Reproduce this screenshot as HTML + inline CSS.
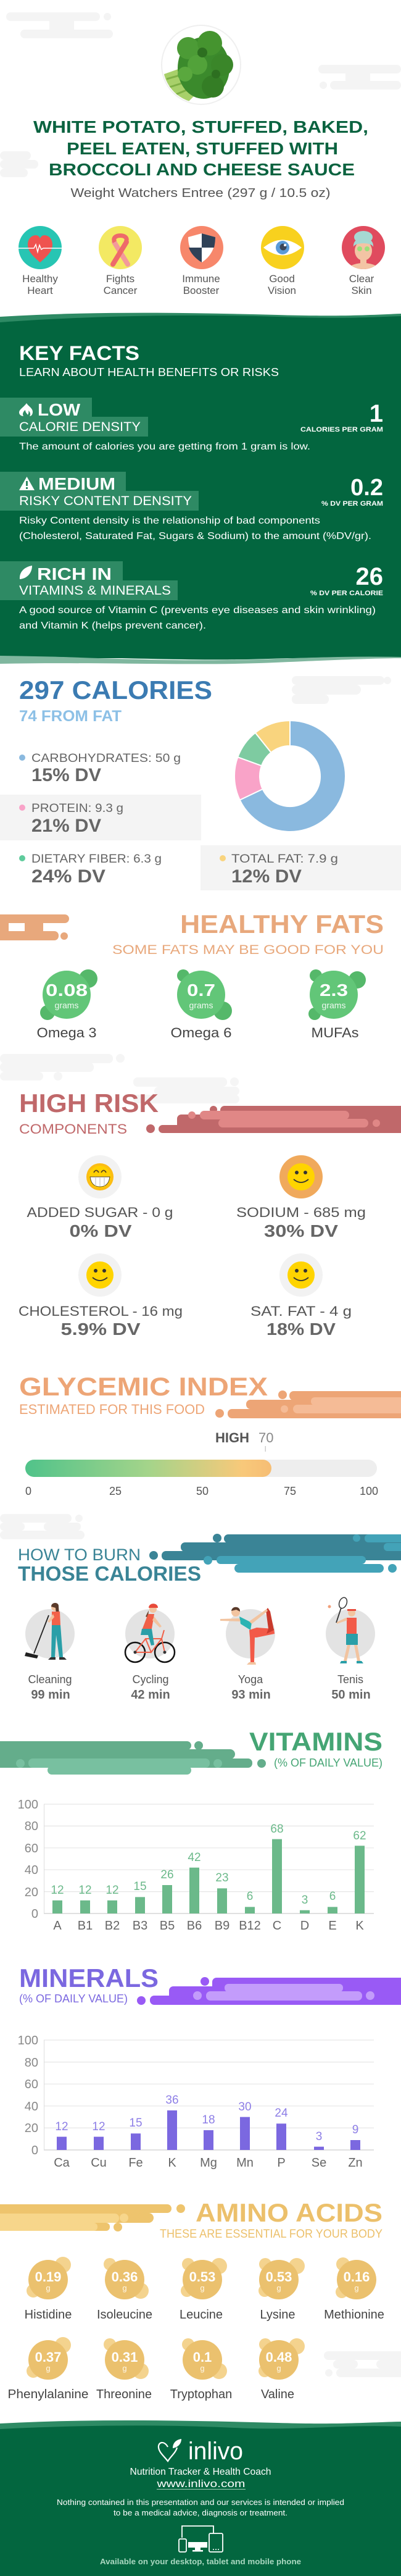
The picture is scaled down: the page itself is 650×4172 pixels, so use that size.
<!DOCTYPE html>
<html><head><meta charset="utf-8"><style>
html,body{margin:0;padding:0;background:#fff;}
svg{display:block;}
text{font-family:"Liberation Sans",Arial,sans-serif;}
</style></head><body>
<svg width="650" height="4172" viewBox="0 0 650 4172" xmlns="http://www.w3.org/2000/svg">
<defs>
<clipPath id="brc"><circle cx="326" cy="105" r="62"/></clipPath>
<clipPath id="skc"><circle cx="589" cy="401" r="35"/></clipPath>
<linearGradient id="gi" x1="0" x2="1" y1="0" y2="0">
<stop offset="0" stop-color="#50c38a"/><stop offset="0.5" stop-color="#a4d48a"/><stop offset="0.88" stop-color="#f8c97a"/><stop offset="1" stop-color="#f6bd74"/></linearGradient>
</defs>
<rect width="650" height="4172" fill="#fff"/>

<!-- header decorations -->
<g fill="#f4f4f4">
<rect x="10" y="20" width="152" height="14" rx="7"/><circle cx="174" cy="27" r="6"/><rect x="80" y="33" width="40" height="16"/><rect x="33" y="48" width="150" height="14" rx="7"/>
<rect x="516" y="105" width="134" height="14" rx="7"/><rect x="560" y="118" width="40" height="14"/><rect x="535" y="131" width="115" height="14" rx="7"/><circle cx="524" cy="138" r="6"/>
<rect x="0" y="245" width="50" height="14" rx="7"/><rect x="0" y="259" width="62" height="14" rx="7"/><rect x="0" y="273" width="45" height="14" rx="7"/>
</g>
<!-- broccoli -->
<circle cx="326" cy="105" r="64" fill="#fff" stroke="#efefef" stroke-width="2"/>
<g clip-path="url(#brc)">
<path d="M266,120 L300,108 L320,150 L300,170 L266,170 Z" fill="#a8d06a"/>
<path d="M270,128 L305,118 M272,142 L310,130 M280,155 L312,142" stroke="#7fb046" stroke-width="3"/>
<ellipse cx="330" cy="110" rx="42" ry="50" fill="#3b8a2c"/>
<circle cx="305" cy="78" r="18" fill="#4c9b36"/><circle cx="340" cy="70" r="20" fill="#45942f"/><circle cx="360" cy="105" r="18" fill="#3a8629"/>
<circle cx="320" cy="105" r="16" fill="#52a23a"/><circle cx="345" cy="140" r="18" fill="#347d25"/><circle cx="300" cy="120" r="12" fill="#5aa83e"/>
<circle cx="328" cy="85" r="8" fill="#2d6f20"/><circle cx="350" cy="120" r="7" fill="#2d6f20"/>
</g>
<!-- title -->
<g fill="#0b6340" font-weight="bold" font-size="28" text-anchor="middle">
<text x="325.5" y="215" textLength="543" lengthAdjust="spacingAndGlyphs">WHITE POTATO, STUFFED, BAKED,</text>
<text x="328" y="250" textLength="440" lengthAdjust="spacingAndGlyphs">PEEL EATEN, STUFFED WITH</text>
<text x="327" y="284" textLength="496" lengthAdjust="spacingAndGlyphs">BROCCOLI AND CHEESE SAUCE</text>
</g>
<text x="325" y="319" text-anchor="middle" font-size="20" fill="#555" textLength="421" lengthAdjust="spacingAndGlyphs">Weight Watchers Entree (297 g / 10.5 oz)</text>

<!-- benefit icons -->
<circle cx="65" cy="401" r="35" fill="#27c5b3"/>
<path d="M65,425 C55,416 45,408 45,396 C45,387 51,381 58,381 C62,381 64,384 65,386 C66,384 68,381 72,381 C79,381 85,387 85,396 C85,408 75,416 65,425 Z" fill="#ef5350"/>
<polyline points="30,402 55,402 58,396 61,408 64,397 67,404 70,402 100,402" fill="none" stroke="#fff" stroke-width="1.5"/>
<circle cx="195" cy="401" r="35" fill="#f3e963"/>
<path d="M207,428 L185,392" stroke="#f39a9a" stroke-width="8" stroke-linecap="round"/>
<path d="M183,428 L205,392" stroke="#ee6a6a" stroke-width="8" stroke-linecap="round"/>
<path d="M186,392 C178,378 212,378 204,392" fill="none" stroke="#ee6a6a" stroke-width="7"/>
<circle cx="327" cy="401" r="35" fill="#f7876b"/>
<path d="M305,384 L327,378 L349,384 C349,402 341,416 327,425 C313,416 305,402 305,384 Z" fill="#fff"/>
<path d="M327,378 L349,384 C349,391 348,396 347,401 L327,401 Z" fill="#2f4157"/>
<path d="M305,401 L327,401 L327,425 C316,418 309,410 306,401 Z" fill="#2f4157"/>
<circle cx="458" cy="401" r="35" fill="#f8d11e"/>
<path d="M427,401 Q458,376 489,401 Q458,426 427,401 Z" fill="#fff"/>
<circle cx="458" cy="401" r="11" fill="#5b9bd8"/><circle cx="459" cy="400" r="5.5" fill="#3b4658"/><circle cx="462" cy="397" r="2" fill="#fff"/>
<circle cx="589" cy="401" r="35" fill="#e04b5e"/>
<g clip-path="url(#skc)">
<ellipse cx="589" cy="442" rx="30" ry="16" fill="#f3c4a4"/>
<rect x="584" y="415" width="10" height="14" fill="#f3c4a4"/>
<ellipse cx="589" cy="406" rx="14" ry="16" fill="#f3c4a4"/>
<path d="M573,400 C571,380 607,380 605,400 C603,392 575,392 573,400 Z" fill="#a6d9d2"/>
<ellipse cx="589" cy="384" rx="15" ry="10" fill="#a6d9d2"/>
<circle cx="583" cy="403" r="4" fill="#9ce07a"/><circle cx="595" cy="403" r="4" fill="#9ce07a"/>
</g>
<g font-size="17" fill="#555" text-anchor="middle">
<text x="65" y="457">Healthy</text><text x="65" y="476">Heart</text>
<text x="195" y="457">Fights</text><text x="195" y="476">Cancer</text>
<text x="326" y="457">Immune</text><text x="326" y="476">Booster</text>
<text x="457" y="457">Good</text><text x="457" y="476">Vision</text>
<text x="586" y="457">Clear</text><text x="586" y="476">Skin</text>
</g>

<!-- KEY FACTS green section -->
<path d="M0,513 C150,504 300,506 450,510 C550,513 600,510 650,508 L650,530 L0,530 Z" fill="#2e8a64"/>
<path d="M0,522 C140,512 300,508 450,513 C560,517 610,513 650,512 L650,1066 L0,1066 Z" fill="#03663f"/>
<path d="M0,1060 C150,1066 300,1072 420,1068 C520,1064 600,1062 650,1063 L650,1066 C600,1066 520,1070 420,1074 C300,1078 150,1072 0,1075 Z" fill="#80b79f"/>
<path d="M0,1058 L650,1058 L650,1064 C560,1062 480,1066 400,1068 C300,1070 150,1064 0,1062 Z" fill="#03663f"/>

<g fill="#fff">
<text x="31" y="583" font-size="32" font-weight="bold" textLength="195" lengthAdjust="spacingAndGlyphs">KEY FACTS</text>
<text x="31" y="609" font-size="18" textLength="421" lengthAdjust="spacingAndGlyphs">LEARN ABOUT HEALTH BENEFITS OR RISKS</text>
</g>
<g fill="#2e8a64">
<rect x="0" y="644" width="149" height="32"/><rect x="0" y="675" width="240" height="32"/>
<rect x="0" y="764" width="204" height="32"/><rect x="0" y="795" width="322" height="32"/>
<rect x="0" y="909" width="199" height="32"/><rect x="0" y="940" width="288" height="32"/>
</g>
<g fill="#fff">
<path d="M43,653 C38,660 31,663 31,668 C31,672 35,674 38,674 C36,671 37,667 41,664 C41,668 44,670 45,672 C46,670 47,668 46,665 C49,667 50,671 48,674 C51,674 53,671 53,667 C53,661 46,658 43,653 Z"/>
<text x="61" y="673" font-size="28" font-weight="bold" textLength="69" lengthAdjust="spacingAndGlyphs">LOW</text>
<text x="31" y="698" font-size="21" textLength="197" lengthAdjust="spacingAndGlyphs">CALORIE DENSITY</text>
<text x="621" y="683" font-size="40" font-weight="bold" text-anchor="end">1</text>
<text x="621" y="699" font-size="11" font-weight="bold" text-anchor="end" textLength="134" lengthAdjust="spacingAndGlyphs">CALORIES PER GRAM</text>
<text x="31" y="728" font-size="16" textLength="472" lengthAdjust="spacingAndGlyphs">The amount of calories you are getting from 1 gram is low.</text>

<path d="M43.5,772 L56,794 L31,794 Z"/>
<rect x="42" y="779" width="3" height="8" fill="#2e8a64"/><rect x="42" y="789" width="3" height="3" fill="#2e8a64"/>
<text x="62" y="793" font-size="28" font-weight="bold" textLength="125" lengthAdjust="spacingAndGlyphs">MEDIUM</text>
<text x="31" y="818" font-size="21" textLength="280" lengthAdjust="spacingAndGlyphs">RISKY CONTENT DENSITY</text>
<text x="621" y="802" font-size="38" font-weight="bold" text-anchor="end">0.2</text>
<text x="621" y="819" font-size="11" font-weight="bold" text-anchor="end" textLength="100" lengthAdjust="spacingAndGlyphs">% DV PER GRAM</text>
<text x="31" y="848" font-size="16" textLength="488" lengthAdjust="spacingAndGlyphs">Risky Content density is the relationship of bad components</text>
<text x="31" y="873" font-size="16" textLength="571" lengthAdjust="spacingAndGlyphs">(Cholesterol, Saturated Fat, Sugars &amp; Sodium) to the amount (%DV/gr).</text>

<path d="M52,916 C40,918 31,926 32,938 C44,937 52,928 52,916 Z"/>
<text x="60" y="939" font-size="28" font-weight="bold" textLength="121" lengthAdjust="spacingAndGlyphs">RICH  IN</text>
<text x="31" y="963" font-size="21" textLength="246" lengthAdjust="spacingAndGlyphs">VITAMINS &amp; MINERALS</text>
<text x="621" y="947" font-size="40" font-weight="bold" text-anchor="end">26</text>
<text x="621" y="964" font-size="11" font-weight="bold" text-anchor="end" textLength="118" lengthAdjust="spacingAndGlyphs">% DV PER CALORIE</text>
<text x="31" y="993" font-size="16" textLength="578" lengthAdjust="spacingAndGlyphs">A good source of Vitamin C (prevents eye diseases and skin wrinkling)</text>
<text x="31" y="1018" font-size="16" textLength="303" lengthAdjust="spacingAndGlyphs">and Vitamin K (helps prevent cancer).</text>
</g>

<!-- CALORIES -->
<g fill="#f4f4f4">
<rect x="473" y="1095" width="150" height="14" rx="7"/><circle cx="628" cy="1102" r="6"/><rect x="473" y="1109" width="112" height="16" rx="8"/><rect x="473" y="1125" width="60" height="15" rx="7"/>
</g>
<text x="31" y="1132" font-size="42" font-weight="bold" fill="#3b7bb2" textLength="313" lengthAdjust="spacingAndGlyphs">297 CALORIES</text>
<text x="31" y="1168" font-size="25" font-weight="bold" fill="#8cc0e6" textLength="166" lengthAdjust="spacingAndGlyphs">74 FROM FAT</text>
<g stroke="#fff" stroke-width="2">
<path d="M470,1167 A90,90 0 1 1 388.7,1295.6 L425.7,1278 A49,49 0 1 0 470,1208 Z" fill="#8ab9df"/>
<path d="M388.7,1295.6 A90,90 0 0 1 385.4,1226.2 L424,1240.2 A49,49 0 0 0 425.7,1278 Z" fill="#f9a3c8"/>
<path d="M385.4,1226.2 A90,90 0 0 1 413.8,1186.7 L439.4,1218.7 A49,49 0 0 0 424,1240.2 Z" fill="#7ecba1"/>
<path d="M413.8,1186.7 A90,90 0 0 1 470,1167 L470,1208 A49,49 0 0 0 439.4,1218.7 Z" fill="#f9d47e"/>
</g>
<rect x="0" y="1287" width="326" height="74" fill="#f4f4f4"/>
<rect x="325" y="1369" width="325" height="73" fill="#f4f4f4"/>
<circle cx="36" cy="1227" r="5" fill="#8ab9df"/>
<circle cx="36" cy="1308" r="5" fill="#f9a3c8"/>
<circle cx="36" cy="1390" r="5" fill="#5fcb9c"/>
<circle cx="361" cy="1390" r="5" fill="#f9d47e"/>
<g fill="#666" font-size="19">
<text x="51" y="1234" textLength="242" lengthAdjust="spacingAndGlyphs">CARBOHYDRATES: 50 g</text>
<text x="51" y="1315" textLength="149" lengthAdjust="spacingAndGlyphs">PROTEIN: 9.3 g</text>
<text x="51" y="1397" textLength="211" lengthAdjust="spacingAndGlyphs">DIETARY FIBER: 6.3 g</text>
<text x="375" y="1397" textLength="173" lengthAdjust="spacingAndGlyphs">TOTAL FAT: 7.9 g</text>
</g>
<g fill="#666" font-size="30" font-weight="bold">
<text x="51" y="1265" textLength="113" lengthAdjust="spacingAndGlyphs">15% DV</text>
<text x="51" y="1347" textLength="113" lengthAdjust="spacingAndGlyphs">21% DV</text>
<text x="51" y="1429" textLength="120" lengthAdjust="spacingAndGlyphs">24% DV</text>
<text x="375" y="1429" textLength="114" lengthAdjust="spacingAndGlyphs">12% DV</text>
</g>

<!-- HEALTHY FATS -->
<g fill="#e8a87c">
<rect x="-10" y="1481" width="122" height="14" rx="7"/><rect x="0" y="1494" width="14" height="15"/><rect x="40" y="1494" width="30" height="15"/>
<rect x="-10" y="1508" width="105" height="15" rx="7"/><circle cx="104" cy="1516" r="6"/>
</g>
<rect x="14" y="1495" width="26" height="13" rx="6" fill="#fff"/>
<text x="622" y="1511" font-size="42" font-weight="bold" fill="#e8a87c" text-anchor="end" textLength="330" lengthAdjust="spacingAndGlyphs">HEALTHY FATS</text>
<text x="622" y="1545" font-size="21" fill="#e8a87c" text-anchor="end" textLength="440" lengthAdjust="spacingAndGlyphs">SOME FATS MAY BE GOOD FOR YOU</text>
<g fill="#55b86a">
<circle cx="143" cy="1585" r="15"/><circle cx="77" cy="1640" r="12"/>
<circle cx="297" cy="1580" r="10"/><circle cx="361" cy="1637" r="15"/>
<circle cx="512" cy="1580" r="10"/><circle cx="579" cy="1587" r="14"/><circle cx="510" cy="1642" r="10"/>
</g>
<g fill="#62c678"><circle cx="108" cy="1611" r="39"/><circle cx="326" cy="1611" r="39"/><circle cx="541" cy="1611" r="39"/></g>
<g fill="#fff" font-weight="bold" font-size="28" text-anchor="middle">
<text x="108" y="1613" textLength="68" lengthAdjust="spacingAndGlyphs">0.08</text>
<text x="326" y="1613" textLength="46" lengthAdjust="spacingAndGlyphs">0.7</text>
<text x="541" y="1613" textLength="46" lengthAdjust="spacingAndGlyphs">2.3</text>
</g>
<g fill="#eef9f0" font-size="14" text-anchor="middle">
<text x="108" y="1633">grams</text><text x="326" y="1633">grams</text><text x="541" y="1633">grams</text>
</g>
<g fill="#444" font-size="22" text-anchor="middle">
<text x="108" y="1680" textLength="97" lengthAdjust="spacingAndGlyphs">Omega 3</text>
<text x="326" y="1680" textLength="99" lengthAdjust="spacingAndGlyphs">Omega 6</text>
<text x="543" y="1680" textLength="77" lengthAdjust="spacingAndGlyphs">MUFAs</text>
</g>

<!-- HIGH RISK -->
<g fill="#f5f5f5">
<rect x="0" y="1707" width="183" height="15" rx="7"/><circle cx="195" cy="1714" r="7"/><rect x="0" y="1721" width="152" height="15" rx="7"/><rect x="0" y="1736" width="70" height="14" rx="7"/><circle cx="94" cy="1743" r="7"/>
<rect x="216" y="1745" width="152" height="15" rx="7"/><circle cx="380" cy="1752" r="7"/><rect x="250" y="1760" width="138" height="14" rx="7"/><rect x="216" y="1773" width="172" height="14" rx="7"/>
</g>
<text x="31" y="1801" font-size="42" font-weight="bold" fill="#c0686a" textLength="226" lengthAdjust="spacingAndGlyphs">HIGH RISK</text>
<text x="31" y="1836" font-size="22" fill="#c0686a" textLength="175" lengthAdjust="spacingAndGlyphs">COMPONENTS</text>
<g fill="#c0686a">
<rect x="357" y="1791" width="300" height="44" rx="7"/><circle cx="346" cy="1797" r="6"/>
<rect x="287" y="1805" width="370" height="30" rx="7"/>
<rect x="257" y="1822" width="400" height="13" rx="6.5"/><circle cx="244" cy="1828" r="7"/>
</g>
<g fill="#e08786">
<rect x="324" y="1799" width="242" height="14" rx="7"/><circle cx="311" cy="1806" r="6"/>
<rect x="354" y="1812" width="243" height="14" rx="7"/><circle cx="610" cy="1819" r="6"/>
</g>
<circle cx="162" cy="1906" r="35" fill="#f2f2f2"/><circle cx="488" cy="1906" r="35" fill="#f0a95c"/>
<circle cx="162" cy="2065" r="35" fill="#f2f2f2"/><circle cx="488" cy="2065" r="35" fill="#f2f2f2"/>
<circle cx="162" cy="1906" r="22" fill="#fcbd14"/><circle cx="162" cy="1906" r="18" fill="#ffd000"/>
<path d="M152,1899 Q156,1892 160,1899 M164,1899 Q168,1892 172,1899" fill="none" stroke="#5a4520" stroke-width="1.8"/>
<path d="M146,1906 L178,1906 Q176,1922 162,1922 Q148,1922 146,1906 Z" fill="#fff" stroke="#5a4520" stroke-width="1"/>
<path d="M155,1906 L155,1921 M162,1906 L162,1922 M169,1906 L169,1921" stroke="#bbb" stroke-width="1"/>
<g fill="#ffd400"><circle cx="488" cy="1906" r="22"/><circle cx="162" cy="2065" r="22"/><circle cx="488" cy="2065" r="22"/></g>
<g fill="#333"><circle cx="481" cy="1899" r="3"/><circle cx="495" cy="1899" r="3"/><circle cx="155" cy="2058" r="3"/><circle cx="169" cy="2058" r="3"/><circle cx="481" cy="2058" r="3"/><circle cx="495" cy="2058" r="3"/></g>
<g fill="none" stroke="#333" stroke-width="1.8"><path d="M476,1910 Q488,1920 500,1910"/><path d="M150,2069 Q162,2079 174,2069"/><path d="M476,2069 Q488,2079 500,2069"/></g>
<g fill="#555" font-size="22" text-anchor="middle">
<text x="162" y="1971" textLength="237" lengthAdjust="spacingAndGlyphs">ADDED SUGAR - 0 g</text>
<text x="488" y="1971" textLength="210" lengthAdjust="spacingAndGlyphs">SODIUM - 685 mg</text>
<text x="163" y="2131" textLength="266" lengthAdjust="spacingAndGlyphs">CHOLESTEROL - 16 mg</text>
<text x="488" y="2131" textLength="164" lengthAdjust="spacingAndGlyphs">SAT. FAT - 4 g</text>
</g>
<g fill="#666" font-size="28" font-weight="bold" text-anchor="middle">
<text x="163" y="2003" textLength="101" lengthAdjust="spacingAndGlyphs">0% DV</text>
<text x="488" y="2003" textLength="120" lengthAdjust="spacingAndGlyphs">30% DV</text>
<text x="163" y="2162" textLength="129" lengthAdjust="spacingAndGlyphs">5.9% DV</text>
<text x="488" y="2162" textLength="112" lengthAdjust="spacingAndGlyphs">18% DV</text>
</g>

<!-- GLYCEMIC -->
<text x="31" y="2260" font-size="42" font-weight="bold" fill="#eda576" textLength="403" lengthAdjust="spacingAndGlyphs">GLYCEMIC INDEX</text>
<text x="31" y="2290" font-size="22" fill="#eda576" textLength="301" lengthAdjust="spacingAndGlyphs">ESTIMATED FOR THIS FOOD</text>
<g fill="#eda576">
<rect x="469" y="2253" width="190" height="15" rx="7"/><circle cx="458" cy="2259" r="7"/>
<rect x="399" y="2267" width="260" height="15" rx="7"/>
<rect x="369" y="2282" width="290" height="15" rx="7"/><circle cx="356" cy="2289" r="7"/>
</g>
<g fill="#f5bb96">
<rect x="504" y="2263" width="150" height="13" rx="6"/>
<rect x="475" y="2275" width="180" height="14" rx="7"/><circle cx="461" cy="2282" r="6"/>
</g>
<text x="349" y="2336" font-size="22" font-weight="bold" fill="#555">HIGH</text>
<text x="419" y="2336" font-size="22" fill="#888">70</text>
<rect x="429.5" y="2342" width="1.5" height="9" fill="#ccc"/>
<rect x="41" y="2364" width="570" height="28" rx="14" fill="#eeeeee"/>
<rect x="41" y="2364" width="399" height="28" rx="14" fill="url(#gi)"/>
<g fill="#555" font-size="18" text-anchor="middle">
<text x="46" y="2421">0</text><text x="187" y="2421">25</text><text x="328" y="2421">50</text><text x="470" y="2421">75</text><text x="598" y="2421">100</text>
</g>

<!-- HOW TO BURN -->
<g fill="#f4f4f4">
<rect x="0" y="2452" width="116" height="14" rx="7"/><circle cx="128" cy="2459" r="6"/><rect x="0" y="2466" width="40" height="13" rx="6"/><rect x="71" y="2466" width="60" height="13" rx="6"/><rect x="0" y="2479" width="137" height="14" rx="7"/>
</g>
<g fill="#3a8496">
<rect x="363" y="2485" width="295" height="14" rx="7"/><circle cx="352" cy="2491" r="7"/>
<rect x="293" y="2498" width="365" height="15" rx="7"/>
<rect x="262" y="2512" width="396" height="15" rx="7"/><circle cx="249" cy="2519" r="7"/>
</g>
<g fill="#43a3b8">
<rect x="591" y="2485" width="65" height="13" rx="6"/><circle cx="578" cy="2491" r="6"/>
<rect x="622" y="2499" width="35" height="13" rx="6"/>
<rect x="351" y="2520" width="242" height="13" rx="6.5"/><circle cx="337" cy="2527" r="7"/>
<rect x="380" y="2533" width="242" height="14" rx="7"/><circle cx="636" cy="2540" r="7"/>
</g>
<text x="29" y="2527" font-size="27" fill="#3a8496" textLength="199" lengthAdjust="spacingAndGlyphs">HOW TO BURN</text>
<text x="29" y="2560" font-size="33" font-weight="bold" fill="#3a8496" textLength="297" lengthAdjust="spacingAndGlyphs">THOSE CALORIES</text>
<g fill="#e3e3e3"><circle cx="81" cy="2646" r="40"/><circle cx="243" cy="2646" r="40"/><circle cx="406" cy="2646" r="40"/><circle cx="568" cy="2646" r="40"/></g>
<!-- cleaning -->
<path d="M79,2616 L55,2678" stroke="#222" stroke-width="1.8"/>
<path d="M42,2676 L62,2681 L60,2686 L40,2682 Z" fill="#222"/>
<circle cx="89" cy="2603" r="6" fill="#f2c4a0"/><path d="M83,2602 C83,2594 96,2594 95,2602 L96,2616 L91,2614 L90,2604 Z" fill="#5a3a2a"/>
<path d="M84,2610 L97,2610 L98,2632 L84,2632 Z" fill="#f2624a"/>
<path d="M86,2614 L77,2626 L80,2628 L88,2619 Z" fill="#f2c4a0"/>
<path d="M84,2632 L98,2632 L102,2684 L96,2684 L91,2648 L89,2684 L83,2684 Z" fill="#2a9fa8"/>
<path d="M82,2684 L90,2684 L90,2688 L78,2688 Z M96,2684 L104,2684 L108,2688 L96,2688 Z" fill="#333"/>
<!-- cycling -->
<g fill="none" stroke="#111" stroke-width="2.5"><circle cx="219" cy="2676" r="16"/><circle cx="267" cy="2676" r="16"/></g>
<g fill="none" stroke="#f06048" stroke-width="2"><path d="M219,2676 L236,2654 L262,2654 L267,2676 M236,2654 L245,2676 L262,2654 M245,2676 L219,2676 M262,2654 L266,2640"/></g>
<circle cx="219" cy="2676" r="2.5" fill="#333"/><circle cx="267" cy="2676" r="2.5" fill="#333"/>
<circle cx="248" cy="2606" r="6" fill="#f2c4a0"/><path d="M241,2604 C241,2595 256,2595 256,2604 Z" fill="#e84a3a"/>
<path d="M241,2608 L236,2618 L240,2620 Z" fill="#6b4430"/>
<path d="M240,2614 L250,2614 L246,2638 L230,2640 Z" fill="#f06048"/>
<path d="M250,2618 L262,2634 L259,2636 L247,2624 Z" fill="#f2c4a0"/>
<path d="M230,2638 L246,2638 L250,2664 L245,2665 L240,2648 L228,2648 Z" fill="#2a9fa8"/>
<!-- yoga -->
<path d="M405,2650 L413,2650 L412,2692 L406,2692 Z" fill="#f25a48"/>
<path d="M404,2692 L414,2692 L415,2696 L400,2696 Z" fill="#f2c4a0"/>
<path d="M404,2640 L416,2636 L444,2638 L445,2646 L416,2652 L405,2652 Z" fill="#f25a48"/>
<path d="M432,2646 L444,2640 L438,2610 L434,2604 L431,2608 L435,2638 Z" fill="#c93a2c"/>
<circle cx="382" cy="2611" r="7" fill="#f2c4a0"/><path d="M375,2609 C376,2600 390,2601 389,2610 L383,2607 Z" fill="#5a3a2a"/>
<path d="M388,2618 L408,2628 L406,2640 L390,2630 Z" fill="#2bb3b3"/>
<path d="M388,2621 L357,2622 L357,2625 L390,2626 Z" fill="#f2c4a0"/>
<path d="M404,2626 L432,2606 L434,2609 L408,2630 Z" fill="#f2c4a0"/>
<!-- tennis -->
<circle cx="534" cy="2602" r="2.5" fill="#f2a07a"/>
<ellipse cx="556" cy="2596" rx="6" ry="9" fill="none" stroke="#333" stroke-width="1.5" transform="rotate(20 556 2596)"/>
<path d="M553,2604 L545,2628" stroke="#333" stroke-width="1.8"/>
<circle cx="570" cy="2612" r="6" fill="#f2c4a0"/><path d="M563,2609 L577,2609 L577,2606 L563,2606 Z" fill="#e84a3a"/>
<path d="M562,2620 L578,2620 L578,2648 L562,2648 Z" fill="#f25a48"/>
<path d="M563,2624 L546,2630 L546,2627 L561,2620 Z" fill="#f2c4a0"/>
<path d="M561,2646 L580,2646 L580,2664 L561,2664 Z" fill="#2a9fa8"/>
<path d="M563,2664 L568,2664 L562,2690 L557,2690 Z M574,2664 L579,2664 L584,2690 L579,2690 Z" fill="#f2c4a0"/>
<path d="M553,2690 L562,2690 L562,2694 L551,2694 Z M578,2690 L586,2690 L589,2694 L578,2694 Z" fill="#2a9fa8"/>
<g fill="#555" font-size="18" text-anchor="middle">
<text x="81" y="2726">Cleaning</text><text x="244" y="2726">Cycling</text><text x="406" y="2726">Yoga</text><text x="568" y="2726">Tenis</text>
</g>
<g fill="#666" font-size="20" font-weight="bold" text-anchor="middle">
<text x="82" y="2751">99 min</text><text x="244" y="2751">42 min</text><text x="407" y="2751">93 min</text><text x="569" y="2751">50 min</text>
</g>

<!-- VITAMINS -->
<g fill="#64ad8b">
<rect x="-10" y="2820" width="320" height="14" rx="7"/><circle cx="322" cy="2827" r="7"/>
<rect x="-10" y="2833" width="391" height="16" rx="8"/>
<rect x="-10" y="2848" width="419" height="15" rx="7"/><circle cx="424" cy="2856" r="7"/>
</g>
<g fill="#78c0a0">
<rect x="46" y="2848" width="294" height="15" rx="7"/><circle cx="33" cy="2856" r="7"/><circle cx="353" cy="2856" r="7"/>
<rect x="77" y="2860" width="233" height="14" rx="7"/>
</g>
<text x="620" y="2835" font-size="42" font-weight="bold" fill="#45a574" text-anchor="end" textLength="216" lengthAdjust="spacingAndGlyphs">VITAMINS</text>
<text x="620" y="2861" font-size="18" fill="#45a574" text-anchor="end" textLength="176" lengthAdjust="spacingAndGlyphs">(% OF DAILY VALUE)</text>
<g stroke="#e6e6e6" stroke-width="1.2">
<line x1="71" y1="2922" x2="606" y2="2922"/><line x1="71" y1="2957.4" x2="606" y2="2957.4"/><line x1="71" y1="2992.8" x2="606" y2="2992.8"/><line x1="71" y1="3028.2" x2="606" y2="3028.2"/><line x1="71" y1="3063.6" x2="606" y2="3063.6"/>
</g>
<line x1="71" y1="3099" x2="606" y2="3099" stroke="#d5d5d5" stroke-width="1.5"/>
<line x1="71.5" y1="2922" x2="71.5" y2="3099" stroke="#ddd" stroke-width="1"/>
<g fill="#888" font-size="20" text-anchor="end">
<text x="62" y="2929">100</text><text x="62" y="2964">80</text><text x="62" y="3000">60</text><text x="62" y="3035">40</text><text x="62" y="3071">20</text><text x="62" y="3106">0</text>
</g>
<g fill="#6bb98a">
<rect x="85" y="3077.8" width="16" height="21.2"/><rect x="130" y="3077.8" width="16" height="21.2"/><rect x="174" y="3077.8" width="16" height="21.2"/>
<rect x="219" y="3072.4" width="16" height="26.6"/><rect x="263" y="3053" width="16" height="46"/><rect x="307" y="3024.7" width="16" height="74.3"/>
<rect x="352" y="3058.3" width="16" height="40.7"/><rect x="397" y="3088.4" width="16" height="10.6"/><rect x="441" y="2978.6" width="16" height="120.4"/>
<rect x="486" y="3093.7" width="16" height="5.3"/><rect x="531" y="3088.4" width="16" height="10.6"/><rect x="575" y="2989.3" width="16" height="109.7"/>
</g>
<g fill="#6bb98a" font-size="19" text-anchor="middle">
<text x="93" y="3067">12</text><text x="138" y="3067">12</text><text x="182" y="3067">12</text><text x="227" y="3061">15</text>
<text x="271" y="3042">26</text><text x="315" y="3014">42</text><text x="360" y="3047">23</text><text x="405" y="3077">6</text>
<text x="449" y="2968">68</text><text x="494" y="3083">3</text><text x="539" y="3077">6</text><text x="583" y="2979">62</text>
</g>
<g fill="#666" font-size="20" text-anchor="middle">
<text x="93" y="3125">A</text><text x="138" y="3125">B1</text><text x="182" y="3125">B2</text><text x="227" y="3125">B3</text>
<text x="271" y="3125">B5</text><text x="315" y="3125">B6</text><text x="360" y="3125">B9</text><text x="405" y="3125">B12</text>
<text x="449" y="3125">C</text><text x="494" y="3125">D</text><text x="539" y="3125">E</text><text x="583" y="3125">K</text>
</g>

<!-- MINERALS -->
<text x="31" y="3218" font-size="42" font-weight="bold" fill="#7b68e0" textLength="226" lengthAdjust="spacingAndGlyphs">MINERALS</text>
<text x="31" y="3243" font-size="18" fill="#7b68e0" textLength="176" lengthAdjust="spacingAndGlyphs">(% OF DAILY VALUE)</text>
<g fill="#995af5">
<rect x="344" y="3203" width="315" height="44" rx="7"/><circle cx="332" cy="3209" r="7"/>
<rect x="274" y="3217" width="385" height="30" rx="7"/>
<rect x="243" y="3232" width="416" height="15" rx="7"/><circle cx="229" cy="3240" r="7"/>
</g>
<g fill="#c39cfb">
<rect x="364" y="3213" width="192" height="13" rx="6"/>
<rect x="334" y="3225" width="253" height="15" rx="7"/><circle cx="320" cy="3232" r="7"/><circle cx="600" cy="3232" r="7"/>
</g>
<g stroke="#e6e6e6" stroke-width="1.2">
<line x1="71" y1="3304" x2="606" y2="3304"/><line x1="71" y1="3339.6" x2="606" y2="3339.6"/><line x1="71" y1="3375.2" x2="606" y2="3375.2"/><line x1="71" y1="3410.8" x2="606" y2="3410.8"/><line x1="71" y1="3446.4" x2="606" y2="3446.4"/>
</g>
<line x1="71" y1="3482" x2="606" y2="3482" stroke="#d5d5d5" stroke-width="1.5"/>
<line x1="71.5" y1="3304" x2="71.5" y2="3482" stroke="#ddd" stroke-width="1"/>
<g fill="#888" font-size="20" text-anchor="end">
<text x="62" y="3311">100</text><text x="62" y="3347">80</text><text x="62" y="3382">60</text><text x="62" y="3418">40</text><text x="62" y="3453">20</text><text x="62" y="3489">0</text>
</g>
<g fill="#7b68e0">
<rect x="92" y="3460.6" width="16" height="21.4"/><rect x="152" y="3460.6" width="16" height="21.4"/><rect x="212" y="3455.3" width="16" height="26.7"/>
<rect x="271" y="3417.9" width="16" height="64.1"/><rect x="330" y="3450" width="16" height="32"/><rect x="389" y="3428.6" width="16" height="53.4"/>
<rect x="448" y="3439.3" width="16" height="42.7"/><rect x="509" y="3476.7" width="16" height="5.3"/><rect x="568" y="3466" width="16" height="16"/>
</g>
<g fill="#8d7ee6" font-size="19" text-anchor="middle">
<text x="100" y="3450">12</text><text x="160" y="3450">12</text><text x="220" y="3444">15</text><text x="279" y="3407">36</text>
<text x="338" y="3439">18</text><text x="397" y="3418">30</text><text x="456" y="3428">24</text><text x="517" y="3466">3</text><text x="576" y="3455">9</text>
</g>
<g fill="#666" font-size="20" text-anchor="middle">
<text x="100" y="3509">Ca</text><text x="160" y="3509">Cu</text><text x="220" y="3509">Fe</text><text x="279" y="3509">K</text>
<text x="338" y="3509">Mg</text><text x="397" y="3509">Mn</text><text x="456" y="3509">P</text><text x="517" y="3509">Se</text><text x="576" y="3509">Zn</text>
</g>

<!-- AMINO ACIDS -->
<g fill="#eec46d">
<rect x="-10" y="3570" width="288" height="14" rx="7"/><circle cx="293" cy="3577" r="7"/>
<rect x="-10" y="3584" width="259" height="16" rx="8"/>
<rect x="-10" y="3600" width="188" height="13" rx="6"/><circle cx="191" cy="3607" r="7"/>
</g>
<g fill="#f7d68b">
<rect x="-10" y="3585" width="203" height="15" rx="7"/><circle cx="201" cy="3592" r="7"/>
<rect x="-10" y="3600" width="168" height="13" rx="6"/>
</g>
<text x="620" y="3598" font-size="42" font-weight="bold" fill="#ecc06b" text-anchor="end" textLength="303" lengthAdjust="spacingAndGlyphs">AMINO ACIDS</text>
<text x="620" y="3624" font-size="19" fill="#ecc06b" text-anchor="end" textLength="361" lengthAdjust="spacingAndGlyphs">THESE ARE ESSENTIAL FOR YOUR BODY</text>
<g fill="#f4f4f4">
<rect x="525" y="3808" width="130" height="14" rx="7"/><rect x="540" y="3822" width="40" height="14" rx="7"/><rect x="610" y="3822" width="45" height="14" rx="7"/><rect x="545" y="3836" width="110" height="14" rx="7"/><circle cx="533" cy="3843" r="6"/>
</g>
<g fill="#f4d38e">
<circle cx="102" cy="3668" r="13"/><circle cx="54" cy="3710" r="11"/>
<circle cx="178" cy="3667" r="10"/><circle cx="228" cy="3710" r="13"/>
<circle cx="305" cy="3667" r="10"/><circle cx="355" cy="3670" r="13"/><circle cx="303" cy="3710" r="10"/>
<circle cx="430" cy="3667" r="10"/><circle cx="481" cy="3670" r="13"/><circle cx="429" cy="3710" r="10"/>
<circle cx="556" cy="3667" r="11"/><circle cx="554" cy="3712" r="10"/>
<circle cx="102" cy="3798" r="13"/><circle cx="54" cy="3840" r="11"/>
<circle cx="178" cy="3797" r="10"/><circle cx="228" cy="3840" r="13"/>
<circle cx="305" cy="3797" r="10"/><circle cx="355" cy="3840" r="13"/>
<circle cx="430" cy="3797" r="10"/><circle cx="481" cy="3800" r="13"/><circle cx="429" cy="3840" r="10"/>
</g>
<g fill="#ebc16e">
<circle cx="78" cy="3692" r="32"/><circle cx="202" cy="3692" r="32"/><circle cx="328" cy="3692" r="32"/><circle cx="452" cy="3692" r="32"/><circle cx="578" cy="3692" r="32"/>
<circle cx="78" cy="3822" r="32"/><circle cx="202" cy="3822" r="32"/><circle cx="328" cy="3822" r="32"/><circle cx="452" cy="3822" r="32"/>
</g>
<g fill="#fff" font-size="22" font-weight="bold" text-anchor="middle">
<text x="78" y="3695">0.19</text><text x="202" y="3695">0.36</text><text x="328" y="3695">0.53</text><text x="452" y="3695">0.53</text><text x="578" y="3695">0.16</text>
<text x="78" y="3825">0.37</text><text x="202" y="3825">0.31</text><text x="328" y="3825">0.1</text><text x="452" y="3825">0.48</text>
</g>
<g fill="#fff8e8" font-size="13" text-anchor="middle">
<text x="78" y="3710">g</text><text x="202" y="3710">g</text><text x="328" y="3710">g</text><text x="452" y="3710">g</text><text x="578" y="3710">g</text>
<text x="78" y="3840">g</text><text x="202" y="3840">g</text><text x="328" y="3840">g</text><text x="452" y="3840">g</text>
</g>
<g fill="#444" font-size="20" text-anchor="middle">
<text x="78" y="3755">Histidine</text><text x="202" y="3755">Isoleucine</text><text x="326" y="3755">Leucine</text><text x="450" y="3755">Lysine</text><text x="574" y="3755">Methionine</text>
<text x="78" y="3884" textLength="131" lengthAdjust="spacingAndGlyphs">Phenylalanine</text><text x="201" y="3884">Threonine</text><text x="326" y="3884">Tryptophan</text><text x="450" y="3884">Valine</text>
</g>

<!-- FOOTER -->
<path d="M0,3925 C150,3917 300,3920 450,3924 C550,3927 600,3923 650,3922 L650,3945 L0,3945 Z" fill="#2e8a64"/>
<path d="M0,3934 C120,3928 250,3926 380,3932 C480,3937 560,3926 650,3930 L650,4172 L0,4172 Z" fill="#03663f"/>
<path d="M272,3963 C266,3952 256,3955 257,3964 C258,3972 266,3978 272,3986 C277,3978 285,3972 287,3964" fill="none" stroke="#fff" stroke-width="2.2"/>
<path d="M280,3965 C280,3956 286,3951 294,3950 C294,3958 288,3964 280,3965 Z" fill="#fff"/>
<text x="305" y="3983" font-size="40" fill="#fff" textLength="89" lengthAdjust="spacingAndGlyphs">inlivo</text>
<text x="325" y="4008" font-size="16" fill="#fff" text-anchor="middle" textLength="229" lengthAdjust="spacingAndGlyphs">Nutrition Tracker &amp; Health Coach</text>
<text x="326" y="4028" font-size="17" fill="#fff" text-anchor="middle" textLength="143" lengthAdjust="spacingAndGlyphs">www.inlivo.com</text>
<line x1="254" y1="4031.5" x2="398" y2="4031.5" stroke="#9fcdb5" stroke-width="1"/>
<text x="325" y="4057" font-size="13" fill="#fff" text-anchor="middle" textLength="466" lengthAdjust="spacingAndGlyphs">Nothing contained in this presentation and our services is intended or implied</text>
<text x="325" y="4074" font-size="13" fill="#fff" text-anchor="middle" textLength="282" lengthAdjust="spacingAndGlyphs">to be a medical advice, diagnosis or treatment.</text>
<g fill="none" stroke="#fff" stroke-width="1.8">
<path d="M295,4110 L295,4091 L346,4091 L346,4103"/>
<rect x="339" y="4103" width="22" height="30" rx="2"/>
<rect x="290" y="4112" width="12" height="21" rx="2"/>
</g>
<g fill="#fff">
<rect x="305" y="4117" width="31" height="9"/><rect x="316" y="4126" width="9" height="5"/><rect x="312" y="4130" width="17" height="2.5"/>
<circle cx="346" cy="4129" r="1"/><circle cx="350" cy="4129" r="1"/><circle cx="354" cy="4129" r="1"/>
</g>
<text x="325" y="4153" font-size="13" font-weight="bold" fill="#a9d7c0" text-anchor="middle" textLength="326" lengthAdjust="spacingAndGlyphs">Available on your desktop, tablet and mobile phone</text>
</svg>
</body></html>
